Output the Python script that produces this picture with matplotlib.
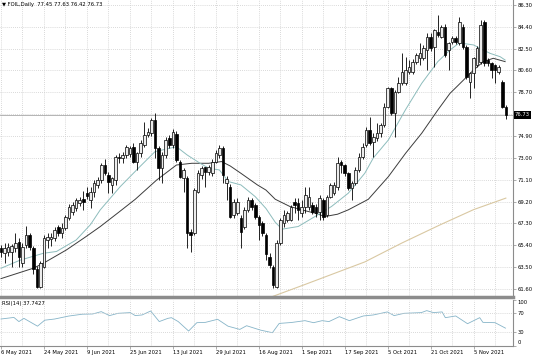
import matplotlib.pyplot as plt
import numpy as np

symbolTitle = "\u25bc FOIL,Daily  77.45 77.63 76.42 76.73"
rsiTitle = "RSI(14) 37.7427"

dateLabels = ["6 May 2021", "24 May 2021", "9 Jun 2021", "25 Jun 2021", "13 Jul 2021",
              "29 Jul 2021", "16 Aug 2021", "1 Sep 2021", "17 Sep 2021", "5 Oct 2021",
              "21 Oct 2021", "5 Nov 2021"]
dateBars = [0, 12, 24, 36, 48, 60, 72, 84, 96, 108, 120, 132]

# daily candles
opens = [65.14, 64.71, 64.85, 64.85, 65.14, 65.72, 63.84, 65.43, 66.30, 65.14,
         63.30, 61.80, 63.55, 65.87, 65.95, 66.01, 66.97, 66.45, 66.88, 67.75,
         68.30, 68.60, 69.05, 69.40, 69.95, 69.35, 70.07, 70.65, 71.08, 72.39,
         71.52, 70.65, 71.08, 73.11, 72.97, 73.26, 73.30, 73.98, 72.68, 73.40,
         74.13, 74.98, 75.14, 76.30, 73.84, 72.10, 73.26, 74.71, 74.13, 75.10,
         72.68, 71.23, 71.23, 66.59, 66.44, 70.07, 71.52, 72.18, 71.81, 71.66,
         72.68, 73.26, 73.84, 70.80, 70.50, 68.04, 68.18, 67.75, 67.02, 68.47,
         69.34, 68.91, 67.89, 67.31, 66.30, 64.42, 63.55, 61.81, 65.58, 67.32,
         67.61, 67.61, 69.20, 69.06, 68.19, 68.77, 68.77, 68.91, 68.77, 68.33,
         69.35, 68.04, 69.64, 69.93, 70.50, 72.68, 72.39, 71.66, 70.36, 70.79,
         71.95, 73.11, 74.12, 75.43, 74.41, 74.70, 75.14, 75.86, 77.45, 79.05,
         76.87, 78.76, 79.48, 79.48, 80.50, 80.50, 81.37, 81.66, 81.66, 82.38,
         83.54, 82.67, 83.98, 83.54, 84.41, 82.38, 83.10, 83.40, 82.96, 84.41,
         82.67, 79.63, 80.35, 81.08, 81.37, 84.85, 81.51, 81.22, 81.08, 80.50,
         79.63, 77.45]
highs = [65.43, 65.57, 65.60, 65.50, 66.45, 66.00, 65.60, 67.10, 66.50, 65.30,
         63.60, 64.00, 66.30, 66.45, 66.50, 67.00, 67.20, 67.30, 68.00, 69.00,
         69.20, 69.50, 69.60, 70.15, 70.50, 70.50, 71.08, 71.30, 72.53, 72.88,
         71.80, 71.37, 73.26, 73.40, 73.55, 74.13, 74.00, 74.33, 73.55, 74.56,
         76.16, 75.58, 76.45, 76.88, 74.00, 73.50, 74.80, 74.95, 75.50, 75.30,
         72.80, 72.10, 71.40, 66.80, 70.36, 71.95, 72.30, 72.24, 72.40, 72.90,
         73.69, 74.13, 74.00, 71.40, 70.70, 69.40, 69.50, 68.00, 68.70, 69.60,
         69.49, 69.10, 68.00, 67.50, 66.50, 64.70, 63.70, 65.87, 67.75, 68.48,
         68.40, 68.91, 69.49, 69.49, 69.35, 70.50, 70.50, 69.20, 69.00, 69.78,
         69.50, 69.78, 70.79, 70.90, 73.11, 72.82, 72.50, 71.80, 71.00, 72.24,
         73.40, 74.27, 75.72, 76.59, 75.14, 76.00, 76.00, 77.74, 79.19, 79.20,
         78.90, 80.06, 82.09, 81.80, 81.51, 81.60, 82.10, 82.96, 82.82, 83.83,
         83.83, 84.20, 85.43, 84.56, 84.60, 83.10, 83.60, 83.60, 85.28, 84.60,
         82.80, 80.50, 81.80, 82.70, 84.99, 84.99, 81.70, 81.37, 81.20, 81.10,
         79.80, 77.63]
lows = [64.42, 63.84, 64.50, 63.55, 64.85, 63.55, 63.50, 65.20, 65.00, 62.90,
        61.66, 61.66, 63.40, 65.14, 65.30, 65.80, 66.20, 66.00, 66.70, 67.60,
        68.00, 68.40, 68.80, 68.47, 69.40, 68.60, 69.64, 70.40, 70.79, 71.52,
        69.92, 69.92, 70.65, 72.53, 72.53, 73.00, 73.10, 72.53, 71.95, 73.11,
        73.98, 74.85, 74.90, 72.97, 71.08, 70.79, 73.00, 73.90, 73.90, 72.60,
        71.23, 70.07, 65.14, 64.85, 66.30, 69.92, 71.20, 70.50, 71.50, 71.40,
        72.53, 73.00, 70.79, 69.34, 67.75, 67.80, 68.00, 65.14, 66.80, 68.30,
        68.50, 67.70, 65.86, 66.20, 64.13, 63.40, 61.66, 61.66, 65.43, 67.03,
        67.40, 67.50, 68.19, 67.61, 67.90, 68.19, 68.50, 68.10, 67.90, 67.61,
        67.61, 67.90, 69.49, 69.80, 70.21, 71.66, 71.40, 70.21, 69.35, 70.60,
        71.80, 72.90, 73.98, 74.10, 73.11, 74.50, 74.85, 75.72, 77.30, 76.70,
        74.85, 78.60, 79.30, 79.30, 80.30, 80.30, 81.20, 81.08, 81.50, 80.64,
        82.30, 80.93, 83.50, 83.40, 81.80, 80.64, 82.90, 82.90, 82.80, 82.50,
        79.90, 78.18, 79.05, 80.90, 81.20, 81.00, 81.00, 79.92, 79.48, 80.30,
        77.30, 76.42]
closes = [64.85, 65.14, 65.29, 65.35, 65.58, 64.42, 65.29, 66.30, 65.29, 63.30,
          61.81, 63.84, 66.01, 66.16, 66.10, 66.73, 66.45, 66.88, 67.89, 68.76,
          68.90, 69.34, 69.34, 69.20, 69.70, 70.07, 70.79, 71.08, 72.39, 71.66,
          70.94, 71.23, 73.11, 72.97, 73.26, 73.98, 73.84, 72.68, 73.40, 74.27,
          74.98, 75.29, 76.30, 73.84, 72.10, 73.26, 74.56, 74.13, 75.29, 72.80,
          71.37, 71.95, 66.44, 66.30, 70.21, 71.66, 72.10, 71.81, 72.24, 72.68,
          73.40, 73.84, 71.52, 71.20, 67.89, 69.20, 69.20, 66.59, 68.47, 69.34,
          68.76, 67.89, 67.17, 66.44, 64.60, 63.69, 61.95, 65.58, 67.61, 68.04,
          68.19, 68.77, 68.91, 68.48, 68.77, 69.78, 69.64, 68.33, 68.19, 69.49,
          67.90, 69.64, 70.65, 70.65, 72.53, 72.39, 71.66, 70.36, 70.79, 71.95,
          73.11, 73.98, 75.43, 74.27, 74.85, 75.14, 75.86, 77.45, 79.05, 76.87,
          78.76, 79.48, 80.50, 80.64, 80.93, 81.37, 81.95, 82.09, 82.53, 83.54,
          82.53, 84.12, 83.69, 84.41, 81.95, 82.96, 83.40, 83.10, 84.85, 82.67,
          80.06, 80.35, 81.66, 82.53, 84.56, 81.22, 81.22, 80.64, 80.64, 80.93,
          77.45, 76.73]

# moving averages, sampled along the drawn lines
fastMaBars = [0, 5.3, 11.8, 15.5, 21, 25, 27.7, 33.3, 38.8, 43, 49, 52, 55.6, 58, 61,
              63.5, 67, 71, 74, 76.6, 78.5, 83, 87.7, 92.3, 97, 101.6, 104, 108.2, 113,
              117.5, 122, 125.4, 128, 132, 134.7, 136.6, 139.4, 140.8]
fastMaValues = [63.40, 64.10, 64.70, 64.86, 65.86, 67.20, 68.47, 70.50, 72.24, 73.54,
                73.97, 73.25, 72.53, 72.10, 71.95, 70.94, 70.65, 69.63, 68.60, 67.40,
                66.80, 67.03, 67.90, 68.77, 69.93, 71.66, 73.00, 74.56, 77.20, 79.48,
                81.37, 82.38, 83.00, 82.82, 82.38, 82.09, 81.80, 81.51]
slowMaBars = [0, 9, 11.8, 18.3, 23.5, 27.7, 33, 37.5, 43.5, 49, 53.3, 58, 61.6, 64, 67,
              71.6, 74, 76.6, 80.7, 85, 87.7, 90.5, 94, 97, 102.6, 108.2, 113, 117.5,
              122, 125.4, 127.3, 132, 134.7, 137.5, 140.8]
slowMaValues = [62.50, 63.40, 63.83, 65.00, 66.10, 67.02, 68.30, 69.40, 71.08, 72.38,
                72.53, 72.53, 72.68, 72.30, 71.66, 70.65, 70.20, 69.40, 68.77, 68.40,
                68.19, 67.90, 68.10, 68.48, 69.40, 71.37, 73.40, 75.14, 77.16, 78.61,
                79.19, 80.64, 81.37, 81.66, 81.37]
longMaBars = [74.6, 85, 101.6, 112, 122.6, 132, 141]
longMaValues = [60.80, 62.00, 63.95, 65.60, 67.17, 68.50, 69.50]

rsiBars = [0, 3.6, 5, 6.4, 10.2, 12.2, 15, 18.9, 22.7, 25.6, 28, 30.3, 32.7, 36.1,
           37.5, 39.4, 41.8, 44.2, 46.6, 47.6, 49.5, 52.4, 54.7, 57.1, 60.5, 63.4,
           66.7, 68.6, 72.4, 75.8, 77.7, 81.1, 84.9, 87.3, 89.7, 91.6, 94.5, 97.3,
           101.2, 104, 107.9, 109.8, 112.6, 117.4, 118.9, 120.8, 123.2, 124.1, 127,
           130.3, 133.7, 134.6, 138, 140.9]
rsiValues = [57.6, 61, 52, 59, 42, 55, 57.6, 64, 68, 68.5, 73.6, 65, 70, 71.5, 65,
             66.4, 75, 52, 59, 60.5, 52, 31.5, 49.6, 50.3, 57, 42, 35, 43, 33.6, 27.8,
             48, 50, 54, 49.6, 54, 52, 62.7, 54, 64.2, 66.4, 73, 65, 70, 71.5, 75.8,
             71.5, 73, 60.5, 64.2, 47.4, 60.5, 50.3, 49.6, 37.74]

priceTicks = [86.30, 84.40, 82.50, 80.60, 78.70, 76.80, 74.90, 73.00, 71.10, 69.20,
              67.30, 65.40, 63.50, 61.60]
rsiTicks = [100, 70, 30, 0]

gridColor = "#cdcdcd"
frameColor = "#8c8c8c"
fontSize = 3.8


def draw_candles(ax):
    o = np.array(opens)
    c = np.array(closes)
    x = np.arange(len(c))
    up = c >= o
    ax.vlines(x, lows, highs, color="black", linewidth=0.6, zorder=3)
    body = np.maximum(np.abs(c - o), 0.04)
    ax.bar(x[up], body[up], bottom=o[up], width=0.72, color="#ececec",
           edgecolor="black", linewidth=0.5, zorder=4)
    ax.bar(x[~up], body[~up], bottom=c[~up], width=0.72, color="black",
           edgecolor="black", linewidth=0.5, zorder=4)


fig = plt.figure(figsize=(5.36, 3.57), dpi=100)
main = fig.add_axes([0, 60 / 357, 513 / 536, 297 / 357])
rsi = fig.add_axes([0, 11.5 / 357, 513 / 536, 46 / 357])

xMin, xMax = -0.28, 143.0

# price panel
main.plot(longMaBars, longMaValues, color="#d9c8a2", linewidth=0.8, zorder=2)
main.plot(slowMaBars, slowMaValues, color="#3c3c3c", linewidth=0.7, zorder=2)
main.plot(fastMaBars, fastMaValues, color="#8dbcbc", linewidth=0.7, zorder=2)
main.axhline(closes[-1], color="#a8a8a8", linewidth=0.6, zorder=1)
draw_candles(main)

main.set_xlim(xMin, xMax)
main.set_ylim(60.90, 86.73)
main.set_xticks(np.arange(0, 142, 6))
main.set_xticklabels([])
main.set_yticks(priceTicks)
main.set_yticklabels(["" if abs(t - 76.80) < 0.01 else f"{t:.2f}" for t in priceTicks])
main.yaxis.tick_right()
main.tick_params(axis="y", labelsize=fontSize, length=2, width=0.5, color=frameColor, pad=1.5)
main.tick_params(axis="x", length=0)
main.grid(True, linestyle=(0, (1, 1.5)), color=gridColor, linewidth=0.6)
main.set_axisbelow(True)
for side in ["left", "top"]:
    main.spines[side].set_visible(False)
main.spines["right"].set_color(frameColor)
main.spines["right"].set_linewidth(0.8)
main.spines["bottom"].set_color(frameColor)
main.spines["bottom"].set_linewidth(2.5)

main.text(0.004, 0.992, symbolTitle, transform=main.transAxes, fontsize=fontSize,
          va="top", ha="left")
main.text(1.004, closes[-1], f"{closes[-1]:.2f}", transform=main.get_yaxis_transform(),
          fontsize=fontSize, color="white", va="center", ha="left", clip_on=False,
          bbox=dict(boxstyle="square,pad=0.25", facecolor="black", edgecolor="none"))

# rsi panel
rsi.plot(rsiBars, rsiValues, color="#86b4c8", linewidth=0.6)
rsi.axhline(70, linestyle=(0, (1, 1.5)), color=gridColor, linewidth=0.6)
rsi.axhline(30, linestyle=(0, (1, 1.5)), color=gridColor, linewidth=0.6)
rsi.set_xlim(xMin, xMax)
rsi.set_ylim(0, 100)
rsi.set_xticks(dateBars)
rsi.set_xticklabels(dateLabels, ha="left")
rsi.set_xticks(np.arange(0, 142, 6), minor=True)
rsi.grid(True, axis="x", which="both", linestyle=(0, (1, 1.5)), color=gridColor, linewidth=0.6)
rsi.set_yticks(rsiTicks)
rsi.set_yticklabels([str(t) for t in rsiTicks])
rsi.yaxis.tick_right()
rsi.tick_params(axis="y", labelsize=fontSize, length=2, width=0.5, color=frameColor, pad=1.5)
rsi.tick_params(axis="x", which="major", labelsize=fontSize, length=2, width=0.5,
                color=frameColor, pad=1.5)
rsi.tick_params(axis="x", which="minor", length=0)
ylabels = rsi.get_yticklabels()
ylabels[0].set_va("top")
ylabels[-1].set_va("bottom")
for side in ["left", "top"]:
    rsi.spines[side].set_visible(False)
for side in ["right", "bottom"]:
    rsi.spines[side].set_color(frameColor)
    rsi.spines[side].set_linewidth(0.8)
rsi.text(0.004, 0.96, rsiTitle, transform=rsi.transAxes, fontsize=fontSize, va="top", ha="left")

fig.savefig("out.png", dpi=100, facecolor="white")
plt.close()
